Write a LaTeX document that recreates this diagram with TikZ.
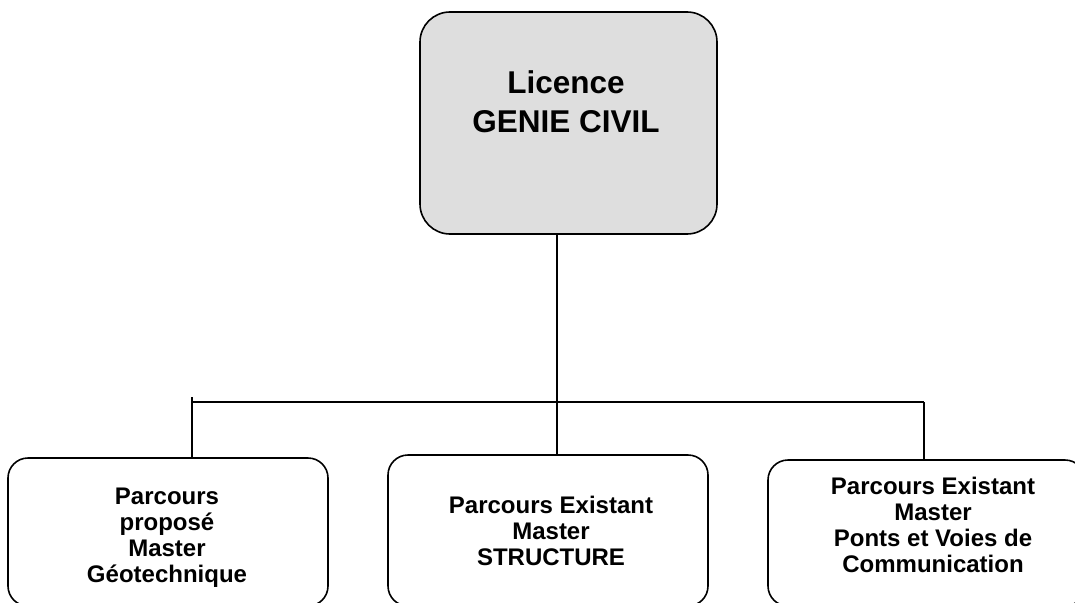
\documentclass[tikz,border=0pt]{standalone}
\usepackage{fontspec}
\setmainfont{Liberation Sans}
\definecolor{boxgray}{HTML}{DEDEDE}
\begin{document}
\begin{tikzpicture}[x=1pt,y=-1pt,
  box/.style={draw=black, line width=1.6pt, rectangle, rounded corners=20pt, inner sep=0pt},
  topbox/.style={box, fill=boxgray, rounded corners=30pt, minimum width=297pt, minimum height=222pt},
  botbox/.style={box, minimum width=320pt},
  toplab/.style={font=\bfseries\fontsize{31.5}{39}\selectfont, align=center, inner sep=0pt},
  botlab/.style={font=\bfseries\fontsize{24}{25.7}\selectfont, align=center, inner sep=0pt},
  conn/.style={draw=black, line width=1.6pt}]
\useasboundingbox (0,0) rectangle (1075,602);
\clip (0,0) rectangle (1075,602);
\node[topbox] (top) at (568.5,123) {};
\node[botbox, minimum height=148pt] (b1) at (168,532) {};
\node[botbox, minimum height=151pt] (b2) at (548,530.5) {};
\node[botbox, minimum height=146pt, minimum width=317pt] (b3) at (926.5,533) {};
\node[toplab, anchor=base] (t0) at (566,132) {Licence\\GENIE CIVIL};
\node[botlab, anchor=base] (t1) at (167,582) {Parcours\\proposé\\Master\\Géotechnique};
\node[botlab, anchor=base] (t2) at (551,565) {Parcours Existant\\Master\\STRUCTURE};
\node[botlab, anchor=base] (t3) at (933,572) {Parcours Existant\\Master\\Ponts et Voies de\\Communication};
\coordinate (j) at (557,402);
\coordinate (hl) at (192,402);
\coordinate (hr) at (924,402);
\coordinate (tick) at (192,397);
\draw[conn] (top.south -| j) -- (j);
\draw[conn] (hl) -- (hr);
\draw[conn] (tick) -- (b1.north -| tick);
\draw[conn] (j) -- (b2.north -| j);
\draw[conn] (hr) -- (b3.north -| hr);
\end{tikzpicture}
\end{document}
